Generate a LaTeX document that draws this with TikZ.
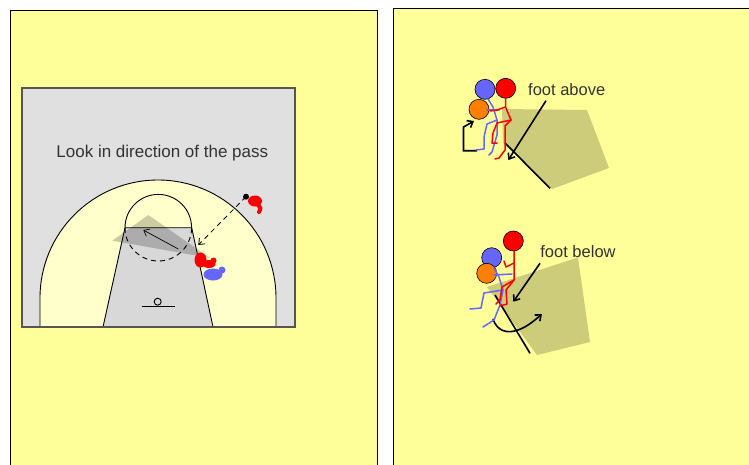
\documentclass[tikz,border=0pt]{standalone}
\usepackage{fontspec}
\setmainfont{Liberation Sans}
\usetikzlibrary{arrows.meta}
\definecolor{panel}{HTML}{FFFF99}
\definecolor{courtgray}{HTML}{E0E0E0}
\definecolor{keygray}{HTML}{D8D8D8}
\definecolor{paint}{HTML}{FFFFCC}
\definecolor{offred}{HTML}{FF0000}
\definecolor{defblue}{HTML}{6666FF}
\definecolor{ballorange}{HTML}{FF8000}
\definecolor{ink}{HTML}{333333}
\definecolor{rim}{HTML}{555555}
\begin{document}
\begin{tikzpicture}[x=1pt,y=1pt,
  panelbox/.style={fill=panel,draw=black,line width=1.5pt},
  shade/.style={fill=black,fill opacity=0.2},
  courtline/.style={draw=black,line width=0.9pt},
  barb/.style={-{Straight Barb[length=5pt,width=8pt]}},
  stick/.style={line width=1.5pt,line join=round,line cap=round},
  headc/.style={circle,draw=black,line width=0.6pt,minimum size=20pt,inner sep=0pt},
  lbl/.style={font=\fontsize{16.5}{18}\selectfont,text=ink,inner sep=0pt}
]
\useasboundingbox (0,0) rectangle (749,-464);
\fill[white] (0,0) rectangle (749,-464);
\clip (0,0) rectangle (749,-464);

% the two panels
\draw[panelbox] (10.5,-10.5) rectangle (377.5,-480);
\draw[panelbox] (393.5,-8.5) rectangle (770,-480);

% ---------------- half court ----------------
\fill[courtgray] (22,-88) rectangle (295,-327);
\fill[paint] (40,-327) -- (40,-298) arc[start angle=180,end angle=0,radius=118] -- (276,-327) -- cycle;
\fill[keygray] (103,-327) -- (125,-227.7) -- (191.7,-227.7) -- (213,-327) -- cycle;
% field of view of the defender
\fill[shade] (148.3,-215) -- (112.3,-240.7) -- (210,-258) -- cycle;
\draw[courtline] (40,-327) -- (40,-298) arc[start angle=180,end angle=0,radius=118] -- (276,-327);
\draw[courtline] (103,-327) -- (125,-227.7) -- (191.7,-227.7) -- (213,-327);
\draw[courtline] (125,-227.7) arc[start angle=180,end angle=0,radius=33.3];
\draw[courtline,dash pattern=on 5pt off 4pt] (125,-227.7) arc[start angle=180,end angle=360,radius=33.3];
\draw[line width=0.9pt] (157.7,-301.7) circle[radius=3.5];
\draw[line width=0.9pt] (141.7,-306) -- (175,-306);
\draw[draw=rim,line width=1.3pt] (22,-88) rectangle (295,-327);

\node[lbl,font=\fontsize{17}{19}\selectfont] (caption) at (162.3,-153) {Look in direction of the pass};

% look arrow inside the lane
\coordinate (eyefrom) at (178.3,-249);
\coordinate (eyeto) at (143.3,-230);
\draw[line width=0.7pt,barb] (eyefrom) -- (eyeto);

% pass line from the ball handler
\coordinate (ball) at (246,-196.7);
\coordinate (catch) at (198.3,-245);
\draw[line width=0.8pt,dash pattern=on 5pt off 4pt,barb] (ball) -- (catch);

% ball handler
\fill[offred] (255,-201) ellipse[x radius=7,y radius=5.5];
\draw[offred,line width=4pt,line cap=round] (258,-205) .. controls (261,-208) .. (259,-212);
\fill[black] (ball) circle[radius=3];

% receiver (red) and defender (blue)
\fill[offred] (200.5,-260) ellipse[x radius=6,y radius=7.5];
\fill[offred] (209,-264) ellipse[x radius=6.5,y radius=4];
\fill[offred] (213.5,-260.5) circle[radius=3];
\fill[defblue] (213,-274.5) ellipse[x radius=9.5,y radius=6];
\fill[defblue] (222,-270) circle[radius=3.5];

% ---------------- foot above ----------------
\fill[shade] (502,-109) -- (587,-110) -- (609,-168) -- (552,-189) -- (503,-143) -- cycle;
\coordinate (fa1) at (505,-143);
\coordinate (fa2) at (550,-188.3);
\draw[line width=1.6pt] (fa1) -- (fa2);
\node[lbl] (above) at (566.7,-90) {foot above};
\coordinate (aboveto) at (508.3,-160);
\draw[line width=1.6pt,barb] (546,-100.7) -- (aboveto);
\coordinate (hookstart) at (477,-150.7);
\coordinate (hookend) at (474,-121);
\draw[line width=1.6pt,barb] (hookstart) -- (463.5,-150.7) -- (463.5,-127) -- (hookend);

\node[headc,fill=defblue] (b1) at (485,-89.3) {};
\node[headc,fill=offred] (r1) at (505.7,-88.3) {};
\node[headc,fill=ballorange] (o1) at (479,-109.3) {};

\draw[stick,defblue] (488,-99) -- (493,-107) -- (497,-120) -- (487,-124) -- (484,-137) -- (484,-149) -- (476,-150);
\draw[stick,defblue] (497,-120) -- (497,-135) -- (492,-152) -- (489,-155);
\draw[stick,defblue] (487,-110) -- (499,-110);

\draw[stick,offred] (505.5,-98) -- (505.5,-107) -- (511,-120) -- (497,-123) -- (493,-133) -- (492,-143) -- (497,-143);
\draw[stick,offred] (511,-120) -- (505,-126) -- (505,-150) -- (499,-158) -- (495,-159);
\draw[stick,offred] (505.5,-107) -- (497,-110) -- (490,-111);

% ---------------- foot below ----------------
\fill[shade] (487,-287) -- (578,-257.5) -- (590,-342) -- (537,-355) -- cycle;
\coordinate (fb1) at (495,-295);
\coordinate (fb2) at (530,-353.3);
\draw[line width=1.6pt] (fb1) -- (fb2);
\node[lbl] (below) at (578,-251.7) {foot below};
\coordinate (belowto) at (513.3,-301.7);
\draw[line width=1.6pt,barb] (540,-263.3) -- (belowto);
\coordinate (turnstart) at (493,-319);
\coordinate (turnend) at (542,-314);
\draw[line width=1.6pt,barb] (turnstart) .. controls (497,-331) and (507,-334) .. (518,-330) .. controls (527,-327) and (535,-320) .. (turnend);

\node[headc,fill=offred] (r2) at (513.3,-241) {};
\node[headc,fill=defblue] (b2) at (491.7,-257.7) {};
\node[headc,fill=ballorange] (o2) at (486.7,-273.3) {};

\draw[stick,defblue] (494,-268) -- (499,-277) -- (503,-290) -- (484,-293) -- (481,-308) -- (470,-309);
\draw[stick,defblue] (503,-290) -- (500,-305) -- (494,-320) -- (483,-327);
\draw[stick,defblue] (494,-275) -- (512,-274);

\draw[stick,offred] (514,-251) -- (514,-263) -- (514,-280) -- (502,-287) -- (500,-300) -- (496,-304);
\draw[stick,offred] (514,-280) -- (506,-290) -- (507,-304) -- (500,-306);
\draw[stick,offred] (514,-263) -- (506,-267) -- (504,-261);
\end{tikzpicture}
\end{document}
